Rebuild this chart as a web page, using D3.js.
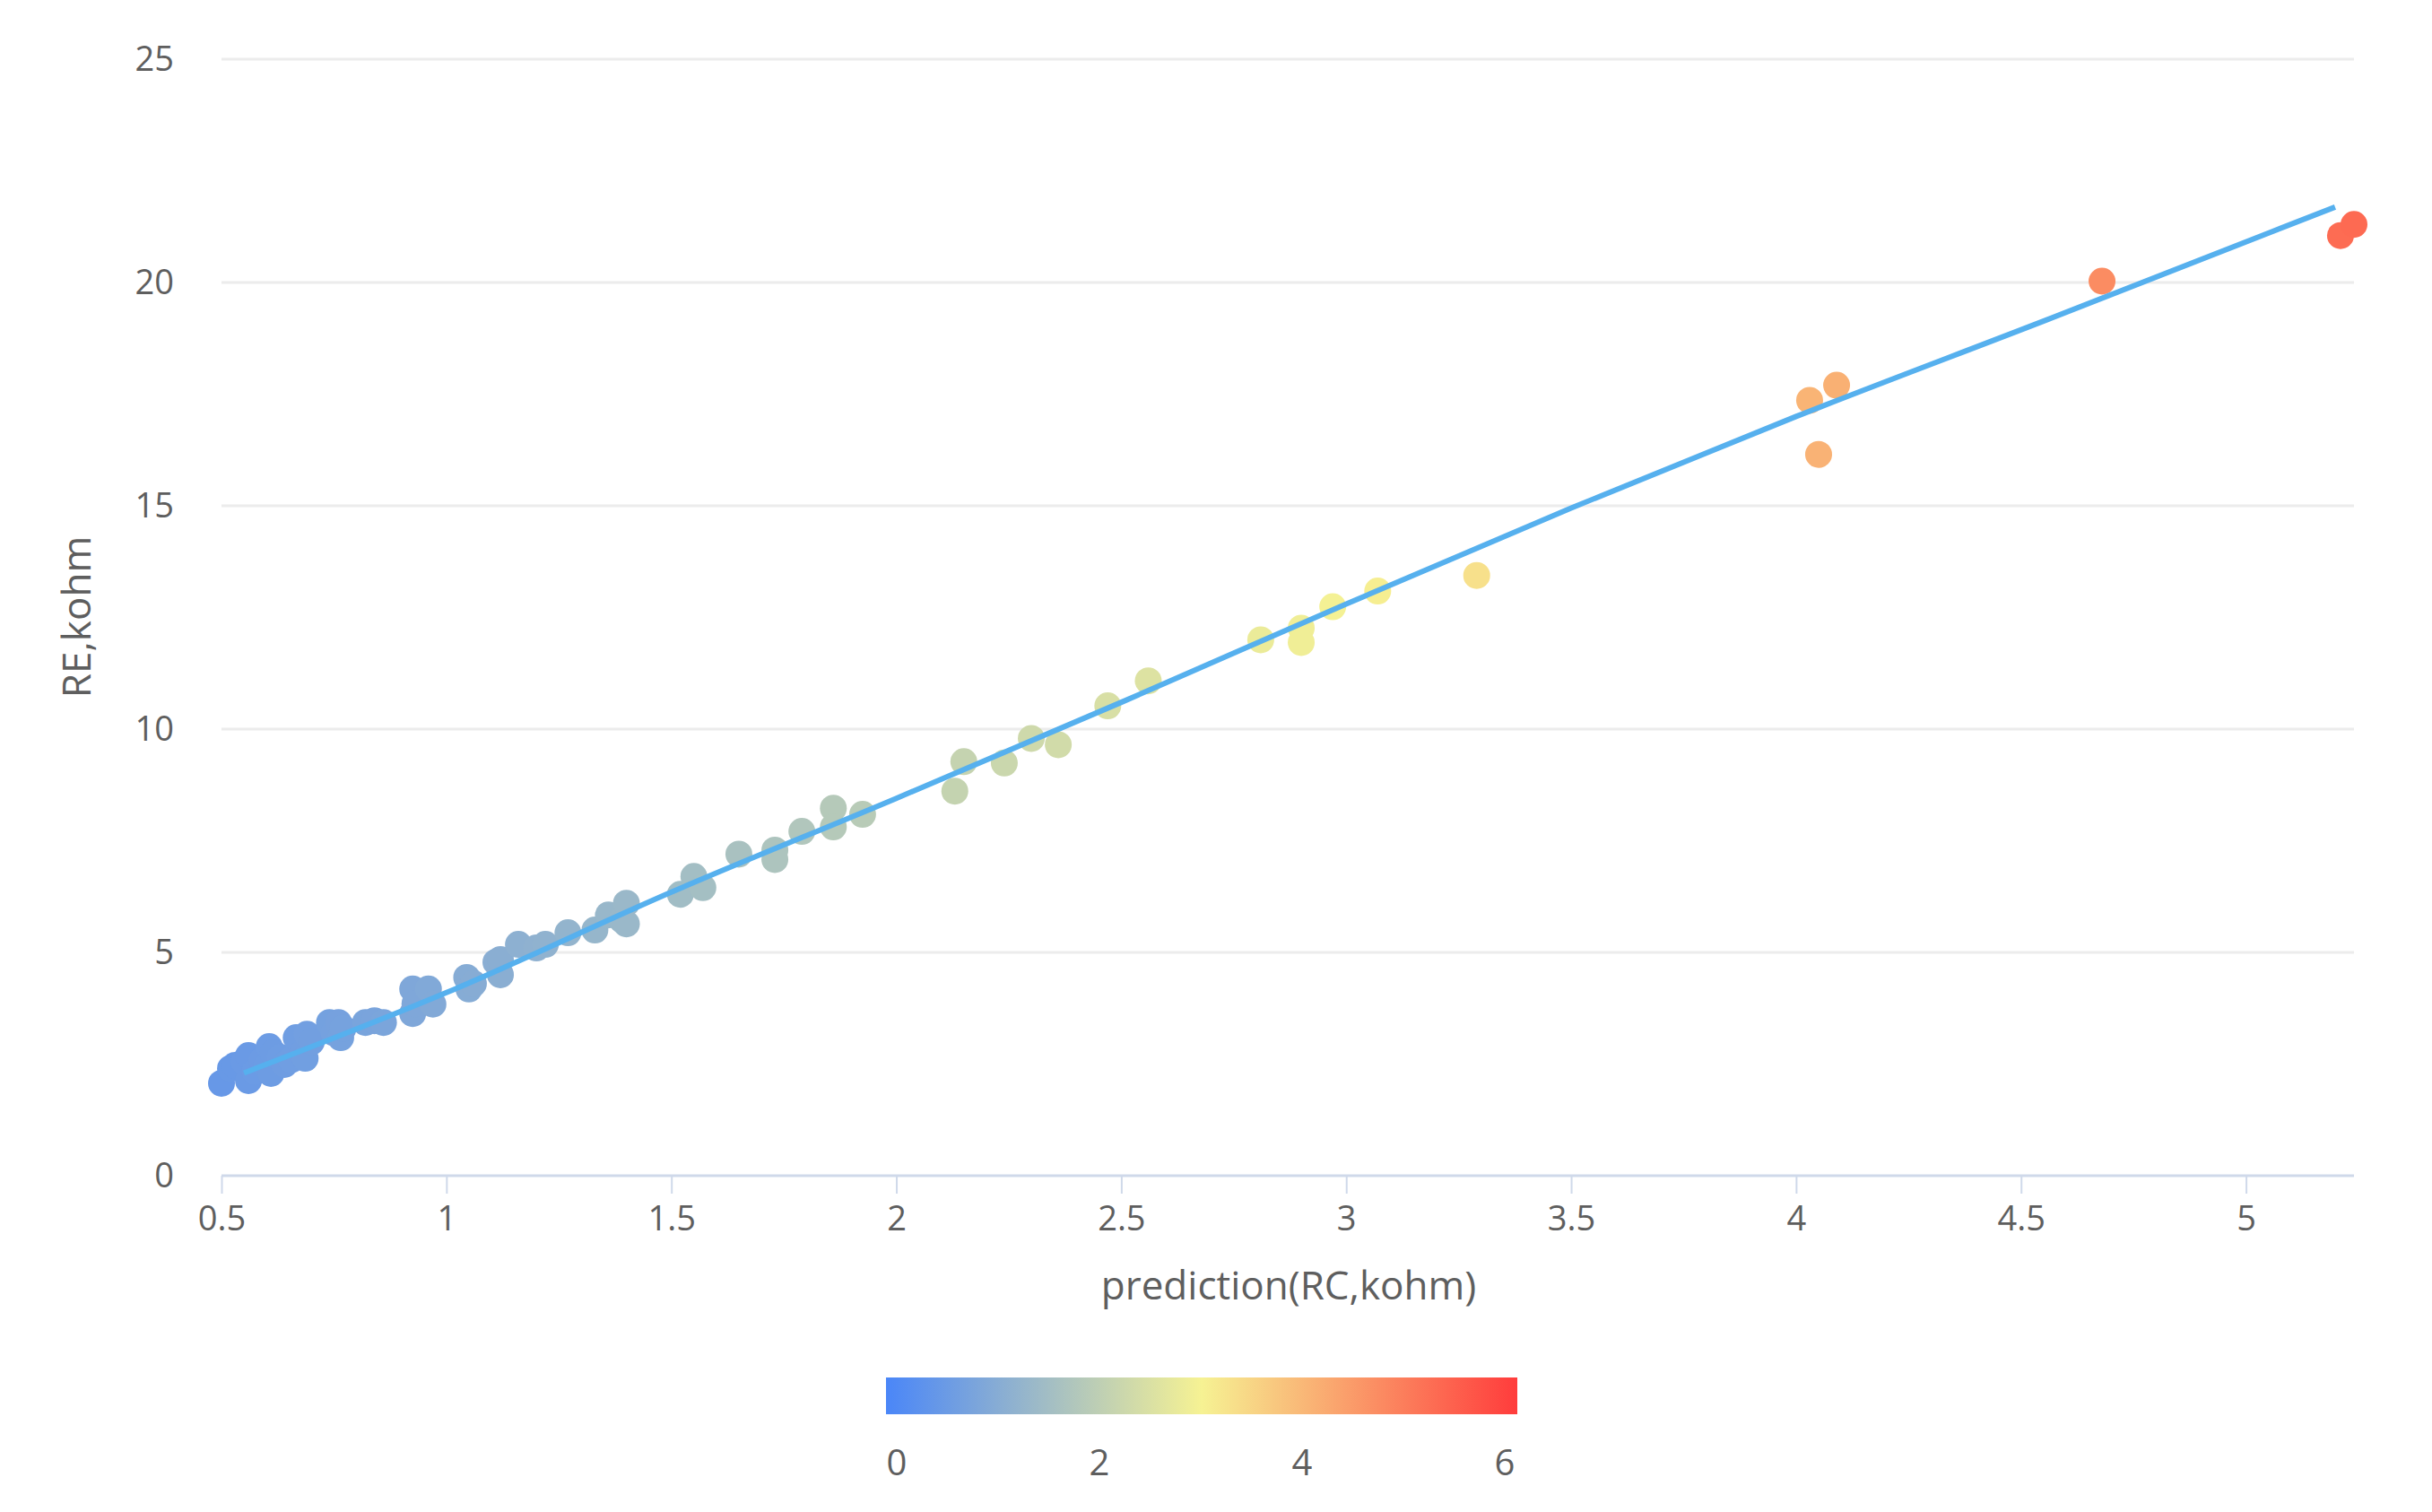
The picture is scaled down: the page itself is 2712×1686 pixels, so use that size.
<!DOCTYPE html>
<html>
<head>
<meta charset="utf-8">
<script src="https://cdn.jsdelivr.net/npm/d3@7"></script>
<style>
  html, body { margin: 0; padding: 0; background: #fff; }
  svg { display: block; }
  text { font-family: "Open Sans", "Noto Sans", sans-serif; fill: #5e5e5e; }
</style>
</head>
<body>
<svg id="chart" width="2712" height="1686"></svg>
<script>
// ---- data ----
const xValues = [0.50,0.52,0.53,0.55,0.56,0.56,0.575,0.59,0.60,0.606,0.61,0.615,0.63,0.64,0.655,0.666,0.68,0.686,0.69,0.70,
  0.74,0.75,0.76,0.765,0.77,0.82,0.84,0.86,0.925,0.925,0.93,0.96,0.97,1.045,1.05,1.06,1.11,1.12,1.12,1.16,
  1.20,1.22,1.27,1.33,1.36,1.39,1.40,1.40,1.52,1.55,1.57,1.65,1.73,1.73,1.79,1.86,1.86,1.925,2.13,2.15,
  2.24,2.30,2.36,2.47,2.56,2.81,2.90,2.90,2.97,3.07,3.29,4.03,4.05,4.09,4.68,5.21,5.24];
const yValues = [2.07,2.40,2.47,2.55,2.13,2.69,2.33,2.58,2.45,2.89,2.29,2.75,2.65,2.49,2.60,3.09,2.74,2.63,3.17,3.00,
  3.43,3.20,3.43,3.09,3.30,3.43,3.47,3.43,4.18,3.63,3.85,4.18,3.84,4.44,4.18,4.30,4.78,4.50,4.84,5.18,
  5.10,5.18,5.44,5.50,5.84,5.73,6.10,5.64,6.30,6.70,6.45,7.20,7.29,7.08,7.71,8.23,7.81,8.09,8.61,9.27,
  9.24,9.79,9.65,10.52,11.08,12.00,12.26,11.94,12.74,13.09,13.44,17.36,16.15,17.70,20.03,21.05,21.30];
// fitted trend line vertices
const lineX = [0.55, 1.0, 1.5, 2.0, 2.5, 3.0, 3.5, 4.0, 4.556, 5.198];
const lineY = [2.30, 4.10, 6.35, 8.45, 10.6, 12.8, 14.95, 17.0, 19.16, 21.69];
const xTicks = [0.5, 1, 1.5, 2, 2.5, 3, 3.5, 4, 4.5, 5];
const yTicks = [0, 5, 10, 15, 20, 25];
const legendTicks = [0, 2, 4, 6];
const colorStops = ["#4a86f8", "#f6f293", "#ff3c3c"];
const xTitle = "prediction(RC,kohm)";
const yTitle = "RE,kohm";

// ---- layout ----
const svg = d3.select("#chart");
const pLeft = 247, pRight = 2625, pTop = 66, pBottom = 1311;
const x = d3.scaleLinear().domain([0.5, d3.max(xValues)]).range([pLeft, pRight]);
const y = d3.scaleLinear().domain([0, 25]).range([pBottom, pTop]);
const color = d3.scaleLinear().domain([0, 3, 6]).range(colorStops).interpolate(d3.interpolateRgb);

// grid lines
svg.append("g").selectAll("line").data(yTicks.filter(d => d > 0)).join("line")
  .attr("x1", pLeft).attr("x2", pRight)
  .attr("y1", d => y(d)).attr("y2", d => y(d))
  .attr("stroke", "#ececec").attr("stroke-width", 3);

// y axis labels (no line)
const yAxis = svg.append("g").attr("transform", `translate(${pLeft},0)`)
  .call(d3.axisLeft(y).tickValues(yTicks).tickSize(0).tickPadding(53).tickFormat(d3.format("d")));
yAxis.select(".domain").remove();
yAxis.selectAll("text").style("font-size", "38px").attr("fill", "#5e5e5e");

// x axis
const xAxis = svg.append("g").attr("transform", `translate(0,${pBottom})`)
  .call(d3.axisBottom(x).tickValues(xTicks).tickSize(20).tickPadding(14).tickFormat(d => String(d)));
xAxis.select(".domain").attr("stroke", "#cfd9ea").attr("stroke-width", 3)
  .attr("d", `M${pLeft},0H${pRight}`);
xAxis.selectAll(".tick line").attr("stroke", "#cfd9ea").attr("stroke-width", 2);
xAxis.selectAll("text").style("font-size", "38px").attr("fill", "#5e5e5e");

// axis titles
svg.append("text").attr("x", 1437).attr("y", 1449).attr("text-anchor", "middle")
  .style("font-size", "44px").text(xTitle);
svg.append("text").attr("transform", "translate(101,688) rotate(-90)").attr("text-anchor", "middle")
  .style("font-size", "44px").text(yTitle);

// points
const pts = xValues.map((v, i) => ({x: v, y: yValues[i]}));
svg.append("g").selectAll("circle").data(pts).join("circle")
  .attr("cx", d => x(d.x)).attr("cy", d => y(d.y)).attr("r", 15)
  .attr("fill", d => color(d.x));

// trend line
const linePts = lineX.map((v, i) => [v, lineY[i]]);
svg.append("path").datum(linePts)
  .attr("d", d3.line().x(d => x(d[0])).y(d => y(d[1])).curve(d3.curveMonotoneX))
  .attr("fill", "none").attr("stroke", "#56b0ee").attr("stroke-width", 6);

// color legend
const defs = svg.append("defs");
const grad = defs.append("linearGradient").attr("id", "cg").attr("x1", "0%").attr("x2", "100%");
colorStops.forEach((c, i) => grad.append("stop").attr("offset", (i / (colorStops.length - 1) * 100) + "%").attr("stop-color", c));
svg.append("rect").attr("x", 988).attr("y", 1536).attr("width", 704).attr("height", 41).attr("fill", "url(#cg)");
const lx = d3.scaleLinear().domain([0, 6]).range([1000, 1678]);
svg.append("g").selectAll("text").data(legendTicks).join("text")
  .attr("x", d => lx(d)).attr("y", 1645).attr("text-anchor", "middle")
  .style("font-size", "40px").text(d => d);
</script>
</body>
</html>
